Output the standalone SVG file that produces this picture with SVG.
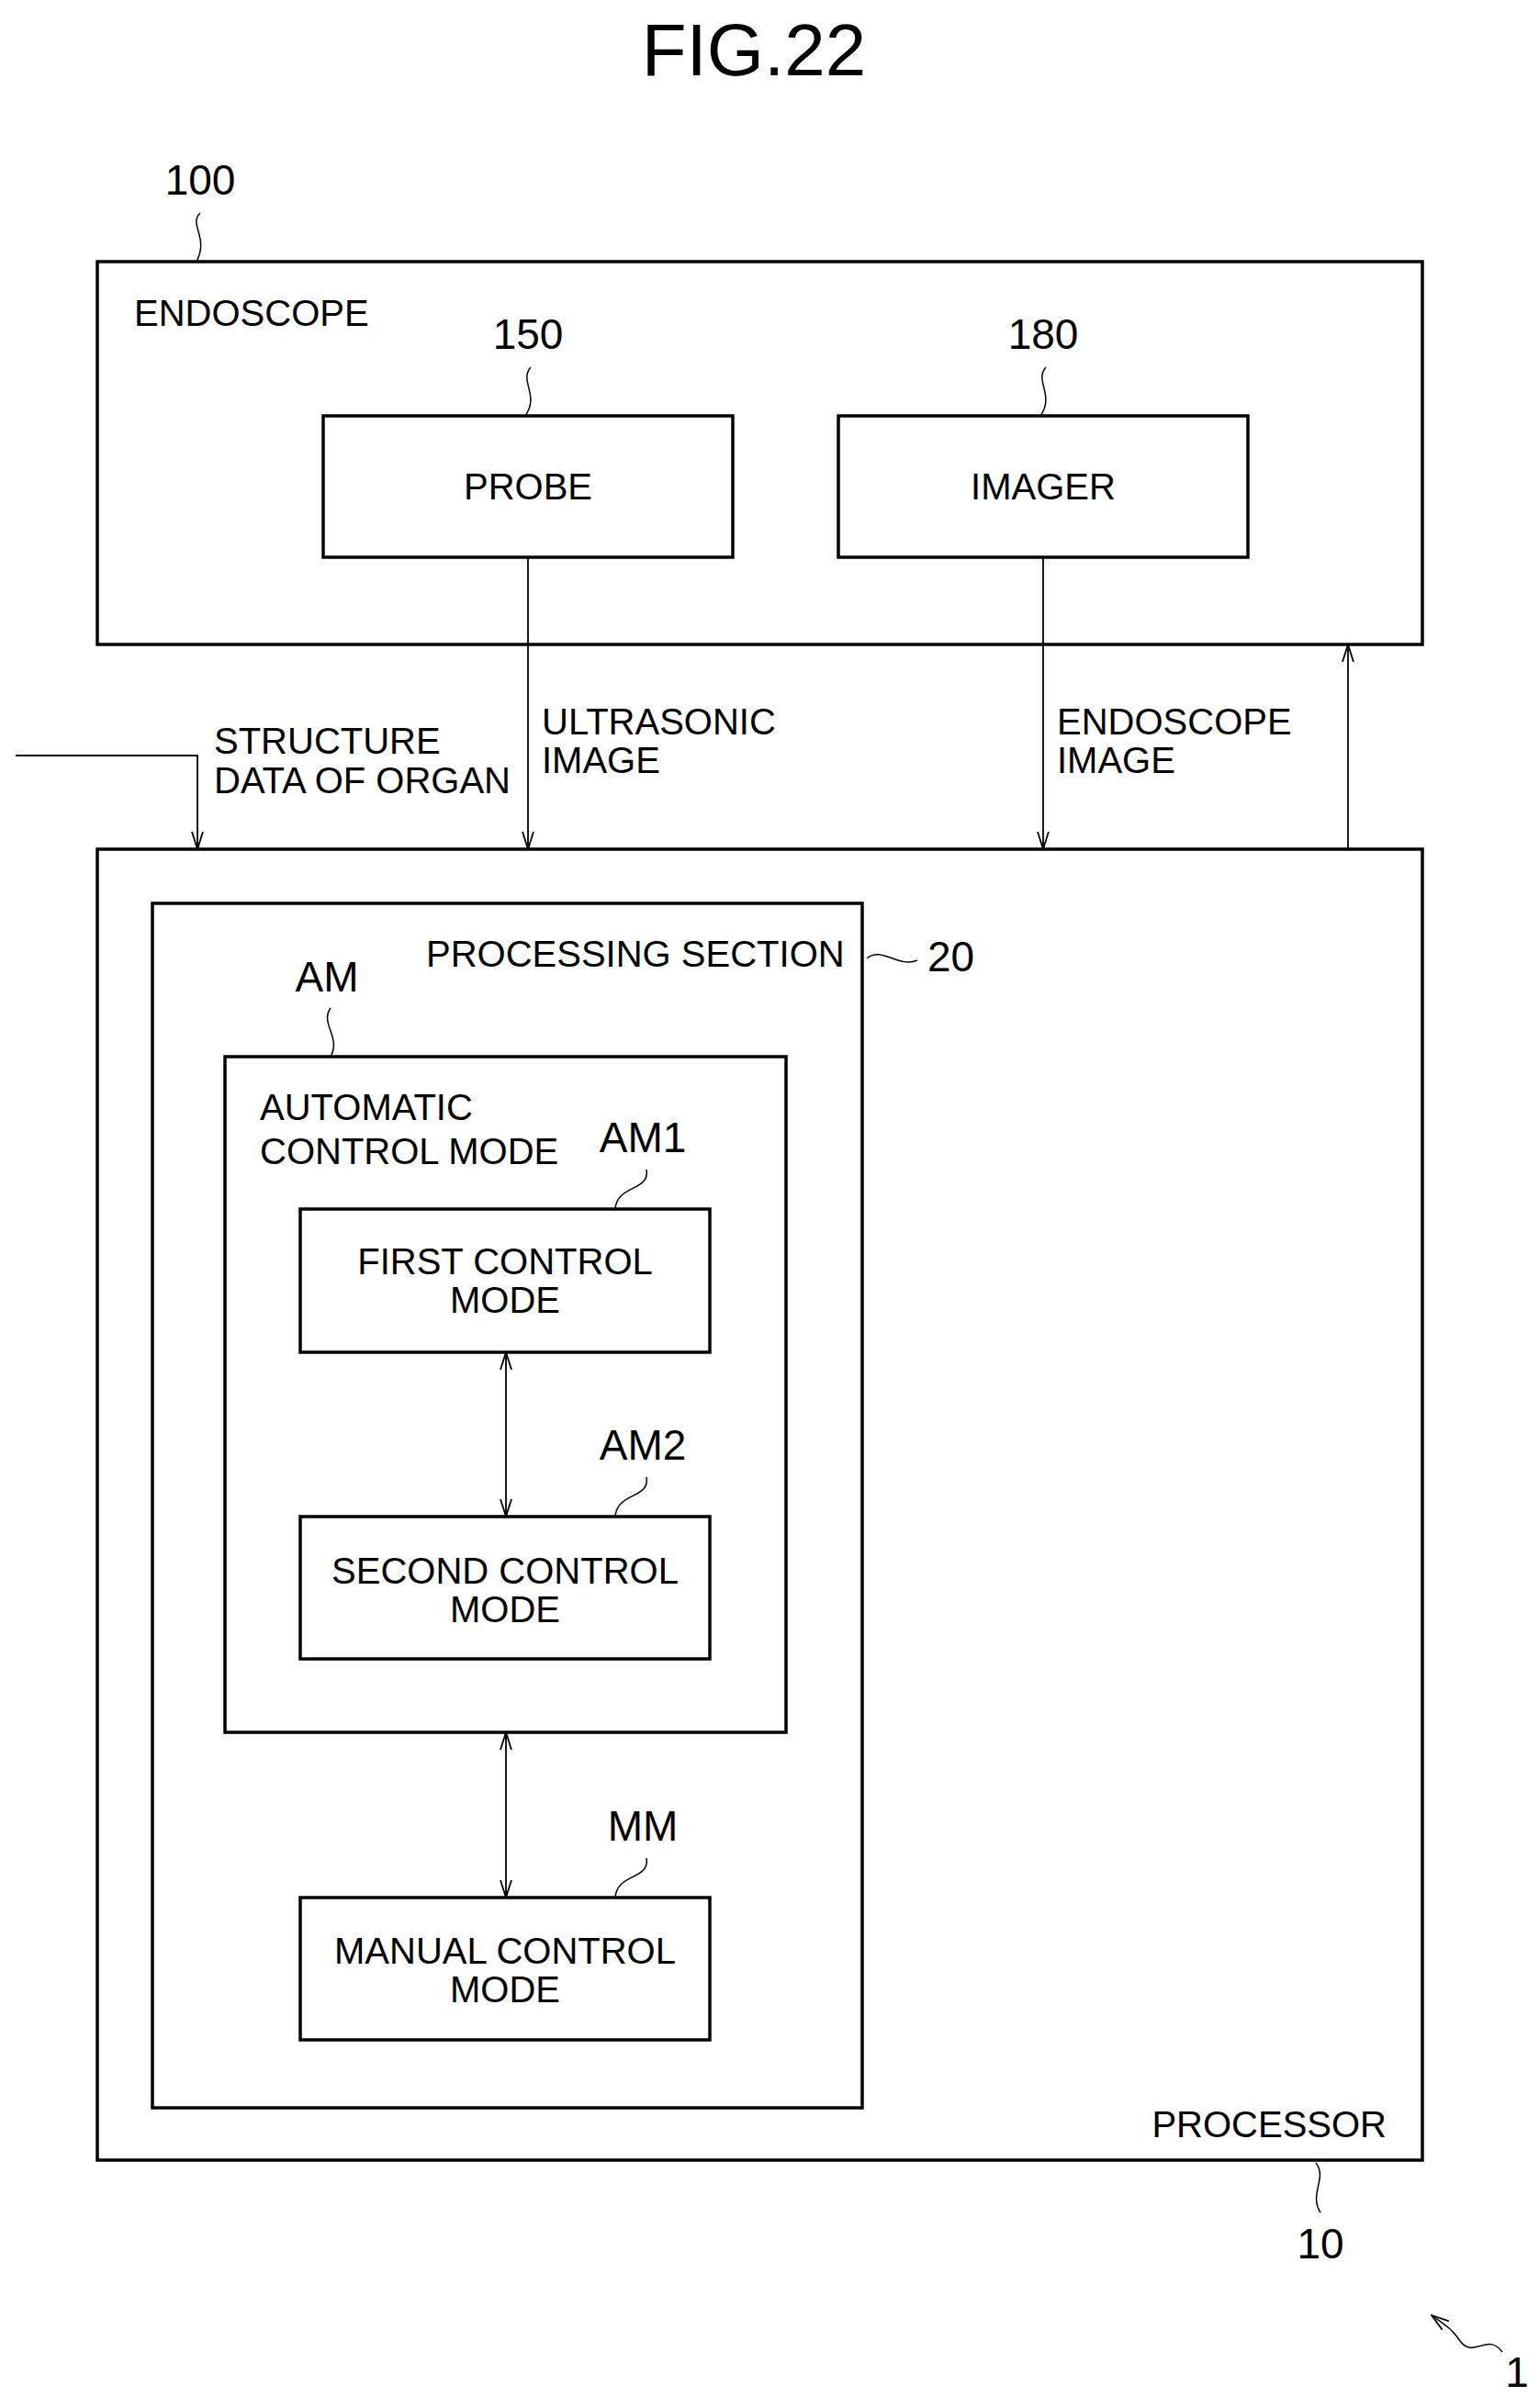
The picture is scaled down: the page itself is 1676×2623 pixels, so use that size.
<svg xmlns="http://www.w3.org/2000/svg" width="1676" height="2623" viewBox="0 0 1676 2623">
<defs>
<style>
text{font-family:"Liberation Sans","DejaVu Sans",sans-serif;font-size:40px;fill:#000}
.ref{font-size:46px}
.c{text-anchor:middle}
.box{fill:none;stroke:#000;stroke-width:3.5}
.ln{fill:none;stroke:#000;stroke-width:1.8}
.ld{fill:none;stroke:#000;stroke-width:1.5}
</style>
<marker id="ah" viewBox="0 0 20 20" refX="19" refY="10" markerWidth="20" markerHeight="20" markerUnits="userSpaceOnUse" orient="auto-start-reverse">
<path d="M0,4 L19,10 L0,16" fill="none" stroke="#000" stroke-width="1.8"/>
</marker>
</defs>
<rect width="1676" height="2623" fill="#fff"/>
<text x="821" y="82" class="c" style="font-size:80px">FIG.22</text>

<g id="endoscope">
<rect class="box" x="106" y="285" width="1443" height="417"/>
<text x="146" y="355">ENDOSCOPE</text>
<text x="218" y="212" class="ref c">100</text>
<path class="ld" d="M218,232 C205,245 228,258 214,285"/>
</g>
<g id="probe">
<rect class="box" x="352" y="453" width="446" height="154"/>
<text x="575" y="544" class="c">PROBE</text>
<text x="575" y="380" class="ref c">150</text>
<path class="ld" d="M578,400 C565,415 588,430 572,453"/>
</g>
<g id="imager">
<rect class="box" x="913" y="453" width="446" height="154"/>
<text x="1136" y="544" class="c">IMAGER</text>
<text x="1136" y="380" class="ref c">180</text>
<path class="ld" d="M1139,400 C1126,415 1149,430 1133,453"/>
</g>
<g id="processor">
<rect class="box" x="106" y="925" width="1443" height="1428"/>
<text x="1510" y="2328" text-anchor="end">PROCESSOR</text>
<text x="1438" y="2460" class="ref c">10</text>
<path class="ld" d="M1433,2356 C1446,2372 1425,2390 1438,2410"/>
</g>
<g id="processing">
<rect class="box" x="166" y="984" width="773" height="1312"/>
<text x="464" y="1053">PROCESSING SECTION</text>
<text x="1010" y="1058" class="ref">20</text>
<path class="ld" d="M944,1044 C960,1030 978,1055 999,1046"/>
</g>
<g id="am">
<rect class="box" x="245" y="1151" width="611" height="736"/>
<text x="283" y="1220">AUTOMATIC</text>
<text x="283" y="1268">CONTROL MODE</text>
<text x="356" y="1080" class="ref c">AM</text>
<path class="ld" d="M360,1098 C348,1115 372,1130 360,1151"/>
</g>
<g id="am1">
<rect class="box" x="327" y="1317" width="446" height="156"/>
<text x="550" y="1388" class="c">FIRST CONTROL</text>
<text x="550" y="1430" class="c">MODE</text>
<text x="700" y="1255" class="ref c">AM1</text>
<path class="ld" d="M704,1274 C708,1298 672,1290 670,1317"/>
</g>
<g id="am2">
<rect class="box" x="327" y="1652" width="446" height="155"/>
<text x="550" y="1725" class="c">SECOND CONTROL</text>
<text x="550" y="1767" class="c">MODE</text>
<text x="700" y="1590" class="ref c">AM2</text>
<path class="ld" d="M704,1609 C708,1633 672,1625 670,1652"/>
</g>
<g id="mm">
<rect class="box" x="327" y="2067" width="446" height="155"/>
<text x="550" y="2139" class="c">MANUAL CONTROL</text>
<text x="550" y="2181" class="c">MODE</text>
<text x="700" y="2005" class="ref c">MM</text>
<path class="ld" d="M704,2024 C708,2048 672,2040 670,2067"/>
</g>
<g id="system">
<text x="1652" y="2600" class="ref c">1</text>
<path class="ld" d="M1636,2562 C1620,2540 1605,2570 1590,2550 C1580,2535 1570,2530 1559,2522" marker-end="url(#ah)"/>
</g>

<g id="connectors">
<path class="ln" d="M17,823 H215 V925" marker-end="url(#ah)"/>
<path class="ln" d="M575,607 V925" marker-end="url(#ah)"/>
<path class="ln" d="M1136,607 V925" marker-end="url(#ah)"/>
<path class="ln" d="M1468,925 V702" marker-end="url(#ah)"/>
<path class="ln" d="M551,1473 V1652" marker-start="url(#ah)" marker-end="url(#ah)"/>
<path class="ln" d="M551,1887 V2067" marker-start="url(#ah)" marker-end="url(#ah)"/>
<text x="233" y="821">STRUCTURE</text>
<text x="233" y="864">DATA OF ORGAN</text>
<text x="590" y="800">ULTRASONIC</text>
<text x="590" y="842">IMAGE</text>
<text x="1151" y="800">ENDOSCOPE</text>
<text x="1151" y="842">IMAGE</text>
</g>
</svg>
